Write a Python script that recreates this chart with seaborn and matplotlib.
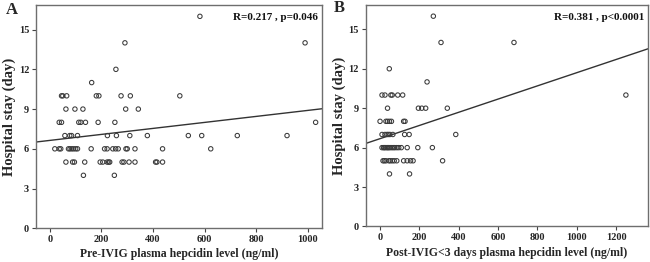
import matplotlib
matplotlib.use("Agg")
import matplotlib.pyplot as plt
import seaborn as sns
import pandas as pd

# ---------------- data ----------------
# Panel A: Pre-IVIG plasma hepcidin (ng/ml) vs hospital stay (day)
pre_hepcidin = [582,
                291, 990,
                256,
                162,
                45, 50, 65, 180, 190, 276, 312, 504,
                62, 97, 128, 294, 343,
                36, 45, 112, 120, 138, 187, 252, 1031,
                58, 77, 84, 107, 223, 258, 310, 378, 537, 589, 727, 920,
                19, 36, 42, 72, 78, 85, 92, 100, 107, 160, 212, 222, 244, 255, 265, 295, 300, 330, 437, 624,
                62, 88, 95, 135, 195, 205, 222, 228, 232, 280, 287, 307, 330, 410, 415, 437,
                130, 250]
pre_stay = ([16] + [14] * 2 + [12] + [11] + [10] * 8 + [9] * 5 + [8] * 8 +
            [7] * 12 + [6] * 20 + [5] * 16 + [4] * 2)

# Panel B: Post-IVIG<3 days plasma hepcidin (ng/ml) vs hospital stay (day)
post_hepcidin = [271,
                 310, 681,
                 47,
                 239,
                 10, 25, 55, 62, 90, 115, 1250,
                 38, 195, 212, 232, 342,
                 0, 30, 38, 48, 58, 120, 127,
                 10, 25, 35, 42, 50, 65, 125, 148, 385,
                 10, 18, 22, 28, 35, 40, 45, 52, 60, 68, 75, 85, 95, 108, 138, 192, 266,
                 15, 22, 30, 45, 52, 62, 72, 85, 120, 138, 155, 168, 318,
                 48, 150]
post_stay = ([16] + [14] * 2 + [12] + [11] + [10] * 7 + [9] * 5 + [8] * 7 +
             [7] * 9 + [6] * 17 + [5] * 13 + [4] * 2)

panel_labels = ["A", "B"]
x_labels = ["Pre-IVIG plasma hepcidin level (ng/ml)",
            "Post-IVIG<3 days plasma hepcidin level (ng/ml)"]
y_label = "Hospital stay (day)"
stats_text = ["R=0.217 , p=0.046", "R=0.381 , p<0.0001"]
y_ticks = [0, 3, 6, 9, 12, 15]
x_ticks_a = [0, 200, 400, 600, 800, 1000]
x_ticks_b = [0, 200, 400, 600, 800, 1000, 1200]

# ---------------- style ----------------
sns.set_style("white")
plt.rcParams["font.family"] = ["Liberation Serif", "DejaVu Serif"]
plt.rcParams["font.weight"] = "bold"

fig = plt.figure(figsize=(6.5, 2.62), dpi=100)
ax_a = fig.add_axes([0.0554, 0.1286, 0.4405, 0.852])
ax_b = fig.add_axes([0.5626, 0.1355, 0.4348, 0.8454])

df_a = pd.DataFrame({"hepcidin": pre_hepcidin, "stay": pre_stay})
df_b = pd.DataFrame({"hepcidin": post_hepcidin, "stay": post_stay})

configs = [
    (ax_a, df_a, (-54, 1057), x_ticks_a, x_labels[0], stats_text[0], panel_labels[0]),
    (ax_b, df_b, (-73, 1364), x_ticks_b, x_labels[1], stats_text[1], panel_labels[1]),
]

for ax, df, xlim, xticks, xlabel, stxt, plab in configs:
    ax.set_xlim(*xlim)
    ax.set_ylim(0, 16.85)
    sns.scatterplot(data=df, x="hepcidin", y="stay", ax=ax, marker="o",
                    s=10, facecolor="none", edgecolor="#3a3a3a", linewidth=0.75,
                    legend=False, zorder=3)
    sns.regplot(data=df, x="hepcidin", y="stay", ax=ax, scatter=False,
                ci=None, truncate=False,
                line_kws={"color": "#333333", "linewidth": 1.0, "zorder": 2})
    ax.set_xlim(*xlim)
    ax.set_ylim(0, 16.85)
    ax.set_xticks(xticks)
    ax.set_yticks(y_ticks)
    ax.tick_params(axis="both", which="major", direction="out", length=3,
                   width=0.8, color="#444444", labelsize=7.5, pad=2,
                   bottom=True, left=True)
    for lbl in ax.get_xticklabels() + ax.get_yticklabels():
        lbl.set_fontweight("bold")
    ax.set_xlabel(xlabel, fontsize=8.5, fontweight="bold", labelpad=3)
    ax.set_ylabel(y_label, fontsize=10.5, fontweight="bold", labelpad=2)
    for sp in ax.spines.values():
        sp.set_visible(True)
        sp.set_color("#6e6e6e")
        sp.set_linewidth(1.0)
    ax.text(0.985, 0.965, stxt, transform=ax.transAxes, ha="right", va="top",
            fontsize=8, fontweight="bold", color="#111111")

fig.text(12 / 650, 1 - 10 / 262, panel_labels[0], ha="center", va="center",
         fontsize=12, fontweight="bold")
fig.text(339 / 650, 1 - 8 / 262, panel_labels[1], ha="center", va="center",
         fontsize=12, fontweight="bold")

fig.savefig("out.png", dpi=100)
